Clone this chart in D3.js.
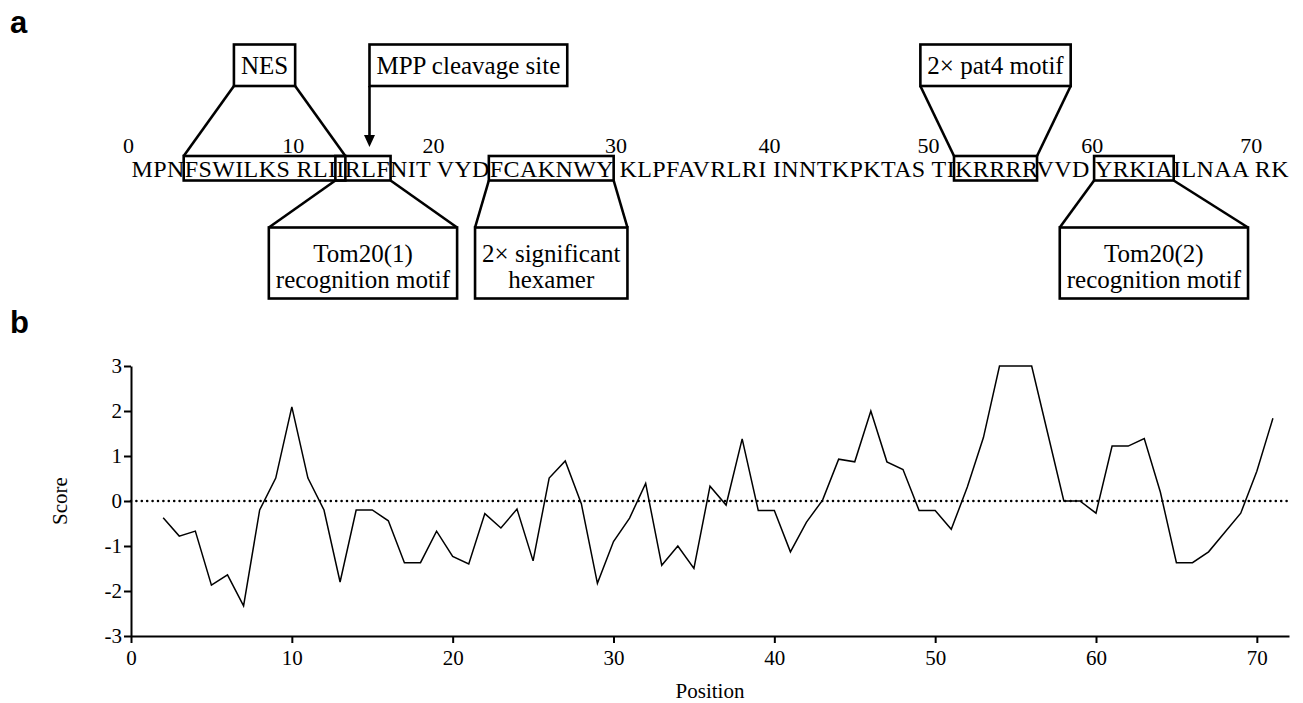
<!DOCTYPE html>
<html>
<head>
<meta charset="utf-8">
<script src="https://cdn.jsdelivr.net/npm/d3@7"></script>
<style>
    body { margin: 0; background: #fff; }
    svg { display: block; }
</style>
</head>
<body>
<div id="chart-area"><svg></svg></div>
<script>
const chartSize = { width: 1303, height: 703 };
const margin = { left: 131, right: 14, top: 366, bottom: 67 };
const serif = "'Liberation Serif', 'Times New Roman', serif";

// panel b: hydrophobic moment score per residue position
const positions = [2, 3, 4, 5, 6, 7, 8, 9, 10, 11, 12, 13, 14, 15, 16, 17, 18, 19, 20, 21,
    22, 23, 24, 25, 26, 27, 28, 29, 30, 31, 32, 33, 34, 35, 36, 37, 38, 39, 40, 41,
    42, 43, 44, 45, 46, 47, 48, 49, 50, 51, 52, 53, 54, 55, 56, 57, 58, 59, 60, 61,
    62, 63, 64, 65, 66, 67, 68, 69, 70, 71];
const scores = [-0.37, -0.78, -0.67, -1.87, -1.64, -2.33, -0.2, 0.51, 2.09, 0.51,
    -0.2, -1.8, -0.2, -0.2, -0.44, -1.37, -1.37, -0.67, -1.23, -1.4,
    -0.28, -0.6, -0.18, -1.33, 0.51, 0.89, -0.06, -1.83, -0.9, -0.38,
    0.39, -1.43, -1.0, -1.5, 0.33, -0.09, 1.38, -0.21, -0.21, -1.13,
    -0.47, 0.02, 0.93, 0.87, 2.0, 0.87, 0.7, -0.21, -0.21, -0.63,
    0.31, 1.41, 3.0, 3.0, 3.0, 1.5, 0.0, 0.0, -0.27, 1.22,
    1.22, 1.39, 0.2, -1.37, -1.37, -1.13, -0.7, -0.27, 0.66, 1.84];
const xTicks = [0, 10, 20, 30, 40, 50, 60, 70];
const yTicks = [-3, -2, -1, 0, 1, 2, 3];

// panel a: sequence and annotated motifs (residue numbers are 1-based)
const sequenceGroups = ["MPNFSWILKS", "RLIIRLFNIT", "VYDFCAKNWY", "KLPFAVRLRI",
    "INNTKPKTAS", "TIKRRRRVVD", "YRKIAILNAA", "RK"];
const residueLabels = [0, 10, 20, 30, 40, 50, 60, 70];
const motifs = [
    { lines: ["NES"], from: 4, to: 14, side: "above" },
    { lines: ["2\u00d7 pat4 motif"], from: 53, to: 57, side: "above" },
    { lines: ["Tom20(1)", "recognition motif"], from: 14, to: 17, side: "below" },
    { lines: ["2\u00d7 significant", "hexamer"], from: 24, to: 30, side: "below" },
    { lines: ["Tom20(2)", "recognition motif"], from: 61, to: 65, side: "below" }
];
const cleavage = { label: "MPP cleavage site", residue: 16 };

// layout of panel a
const seq = { x: 131.5, baseline: 177, length: 1157, size: 24 };
const spanBox = { top: 156, bottom: 180.5 };
const upper = { top: 44.5, bottom: 86 };
const lower = { top: 227.5, bottom: 298.5 };
const calloutShift = { "Tom20(2)": 20 };
const pad = 7;

const svg = d3.select("#chart-area svg")
    .attr("width", chartSize.width)
    .attr("height", chartSize.height);

const panelLabel = (t, y) => svg.append("text")
    .attr("x", 10).attr("y", y)
    .attr("font-family", "'Liberation Sans', Arial, sans-serif")
    .attr("font-weight", "bold")
    .attr("font-size", 31)
    .text(t);
panelLabel("a", 33);
panelLabel("b", 333);

// ---------- panel a ----------
const a = svg.append("g").attr("class", "panel-a");

const seqText = a.append("text")
    .attr("x", seq.x)
    .attr("y", seq.baseline)
    .attr("font-family", serif)
    .attr("font-size", seq.size)
    .attr("textLength", seq.length)
    .attr("lengthAdjust", "spacing")
    .style("white-space", "pre")
    .text(sequenceGroups.join(" "));

const node = seqText.node();
const charIndex = r => (r - 1) + Math.floor((r - 1) / 10);
const charStart = i => node.getStartPositionOfChar(i).x;
const charEnd = i => node.getEndPositionOfChar(i).x;

const spaceW = charEnd(10) - charStart(10);
const labelX = k => {
    if (k === 0) return charStart(0) - spaceW / 2;
    const i = 11 * (k / 10) - 1;
    return (charStart(i) + charEnd(i)) / 2;
};

a.selectAll(".res-label")
    .data(residueLabels)
    .enter().append("text")
    .attr("class", "res-label")
    .attr("x", labelX)
    .attr("y", 153)
    .attr("text-anchor", "middle")
    .attr("font-family", serif)
    .attr("font-size", 22)
    .text(d => d);

const line = (x1, y1, x2, y2) => a.append("line")
    .attr("x1", x1).attr("y1", y1).attr("x2", x2).attr("y2", y2)
    .attr("stroke", "#000").attr("stroke-width", 2.6);

const rect = (x0, y0, x1, y1) => a.append("rect")
    .attr("x", x0).attr("y", y0)
    .attr("width", x1 - x0).attr("height", y1 - y0)
    .attr("fill", "none").attr("stroke", "#000").attr("stroke-width", 2.6);

motifs.forEach(m => {
    const s0 = charStart(charIndex(m.from)) - 1;
    const s1 = charEnd(charIndex(m.to)) + 1;
    rect(s0, spanBox.top, s1, spanBox.bottom);

    const g = m.side === "above" ? upper : lower;
    const texts = m.lines.map((t, i) => a.append("text")
        .attr("y", m.lines.length === 1 ? g.top + 29 : g.top + 34 + i * 26)
        .attr("text-anchor", "middle")
        .attr("font-family", serif)
        .attr("font-size", 25)
        .text(t));
    const w = d3.max(texts, t => t.node().getComputedTextLength()) + 2 * pad;
    const cx = (s0 + s1) / 2 + (calloutShift[m.lines[0]] || 0);
    texts.forEach(t => t.attr("x", cx));
    const b0 = cx - w / 2, b1 = cx + w / 2;
    rect(b0, g.top, b1, g.bottom);

    if (m.side === "above") {
        line(b0, g.bottom, s0, spanBox.top);
        line(b1, g.bottom, s1, spanBox.top);
    } else {
        line(s0, spanBox.bottom, b0, g.top);
        line(s1, spanBox.bottom, b1, g.top);
    }
});

// cleavage site callout with arrow
const ci = charIndex(cleavage.residue);
const ax = (charStart(ci) + charEnd(ci)) / 2 + 1;
const ct = a.append("text")
    .attr("x", ax + pad)
    .attr("y", upper.top + 29)
    .attr("font-family", serif)
    .attr("font-size", 25)
    .text(cleavage.label);
rect(ax, upper.top, ax + ct.node().getComputedTextLength() + 2 * pad, upper.bottom);
line(ax, upper.bottom, ax, 137);
a.append("path")
    .attr("d", `M${ax - 5.5},135 L${ax + 5.5},135 L${ax},147 Z`)
    .attr("fill", "#000");

// ---------- panel b ----------
const x = d3.scaleLinear()
    .domain([0, 72])
    .range([margin.left, chartSize.width - margin.right]);
const y = d3.scaleLinear()
    .domain([-3, 3])
    .range([chartSize.height - margin.bottom, margin.top]);

const b = svg.append("g").attr("class", "panel-b");

b.append("line")
    .attr("class", "zero")
    .attr("x1", x(0)).attr("x2", x(72))
    .attr("y1", y(0)).attr("y2", y(0))
    .attr("stroke", "#000")
    .attr("stroke-width", 2.6)
    .attr("stroke-linecap", "round")
    .attr("stroke-dasharray", "0 5.4");

const scoreLine = d3.line()
    .x((d, i) => x(positions[i]))
    .y(d => y(d));

b.append("path")
    .attr("d", scoreLine(scores))
    .attr("fill", "none")
    .attr("stroke", "#000")
    .attr("stroke-width", 1.5)
    .attr("stroke-linejoin", "miter");

const styleAxis = g => {
    g.select(".domain").attr("stroke-width", 2);
    g.selectAll(".tick line").attr("stroke-width", 2);
    g.selectAll("text")
        .attr("font-family", serif)
        .attr("font-size", 21)
        .attr("fill", "#000");
};

b.append("g")
    .attr("class", "x-axis")
    .attr("transform", `translate(0,${y(-3)})`)
    .call(d3.axisBottom(x).tickValues(xTicks).tickSize(7).tickSizeOuter(0).tickPadding(7).tickFormat(d => String(d)))
    .call(styleAxis);

b.append("g")
    .attr("class", "y-axis")
    .attr("transform", `translate(${x(0)},0)`)
    .call(d3.axisLeft(y).tickValues(yTicks).tickSize(7).tickSizeOuter(0).tickPadding(2).tickFormat(d => String(d)))
    .call(styleAxis);

b.append("text")
    .attr("class", "y axis-label")
    .attr("transform", `translate(67,${y(0)}) rotate(-90)`)
    .attr("text-anchor", "middle")
    .attr("font-family", serif)
    .attr("font-size", 21)
    .text("Score");

b.append("text")
    .attr("class", "x axis-label")
    .attr("x", (x(0) + x(72)) / 2)
    .attr("y", 698)
    .attr("text-anchor", "middle")
    .attr("font-family", serif)
    .attr("font-size", 21)
    .text("Position");
</script>
</body>
</html>
